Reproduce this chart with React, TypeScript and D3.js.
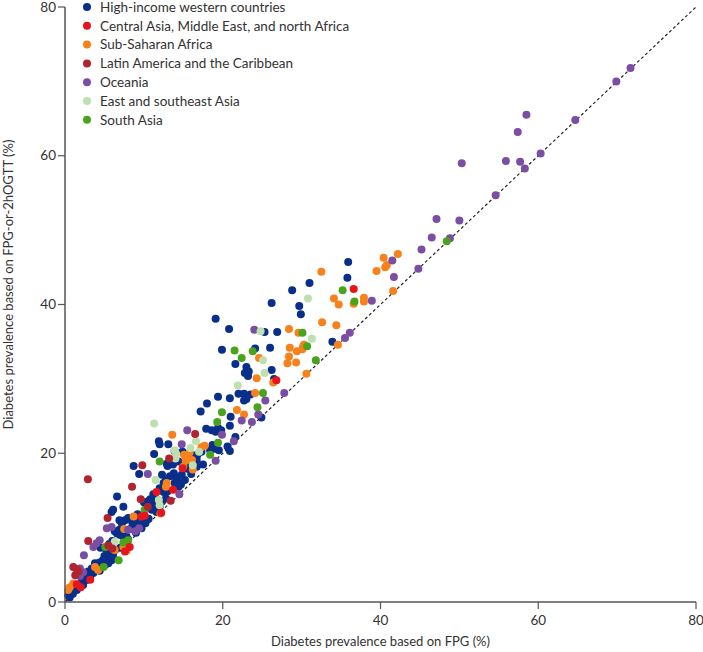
import React from "react";
import * as d3 from "d3";

const seriesNames = [
  "High-income western countries",
  "Central Asia, Middle East, and north Africa",
  "Sub-Saharan Africa",
  "Latin America and the Caribbean",
  "Oceania",
  "East and southeast Asia",
  "South Asia",
];
const seriesColors = ["#0a2f8a", "#e8141c", "#f7821c", "#b3232f", "#7a4ea3", "#bfdfb0", "#4aa31c"];

const highIncome: [number, number][] = [
  [35.9,45.7],[35.8,43.6],[31.0,42.9],[28.8,41.9],[26.2,40.2],[29.7,39.8],[29.9,38.7],[19.1,38.1],[33.9,35.0],
  [20.8,36.7],[25.3,36.3],[26.9,36.3],[26.0,34.2],[24.1,34.1],[19.9,33.9],[21.6,32.0],[23.0,31.6],[22.8,30.8],[23.2,30.4],[23.3,31.0],[26.2,31.2],[26.5,30.0],
  [22.0,28.0],[22.7,28.0],[23.5,27.9],[23.0,27.3],[22.7,27.1],[20.9,27.4],[19.4,27.6],[18.0,26.7],[17.2,25.6],[21.0,24.9],[24.9,24.8],[20.9,23.7],
  [17.9,23.3],[18.6,23.1],[19.1,22.9],[19.4,23.4],[19.8,23.1],[21.6,22.2],[11.9,21.6],[12.0,21.2],[13.1,21.2],[13.9,20.3],[11.3,19.9],
  [18.7,21.1],[18.4,20.4],[18.9,20.6],[19.5,20.4],[17.3,20.2],[16.8,19.8],[16.7,19.1],[13.0,18.3],[16.7,18.2],
  [20.6,20.9],[20.9,20.3],[14.9,20.2],[12.9,18.6],[13.7,18.5],[14.4,18.9],[8.7,18.3],[9.4,17.2],[12.3,17.1],[12.8,16.4],[13.3,16.9],[12.5,16.0],
  [13.8,17.3],[14.1,16.7],[14.3,16.2],[14.7,15.8],[14.4,15.5],[6.6,14.2],[12.0,15.3],[12.5,14.8],[12.8,13.9],[12.3,13.5],[11.6,13.8],[11.3,13.0],[10.5,13.5],[10.0,13.4],[10.4,12.6],[11.0,12.4],[11.6,12.1],[12.0,12.8],
  [5.9,12.1],[6.1,12.4],[7.4,12.8],[6.9,11.0],[7.2,10.6],[7.6,11.0],[8.0,11.3],[8.5,10.8],[8.8,10.6],[9.3,10.4],[9.7,9.9],[9.9,10.6],[10.2,10.6],
  [6.6,9.2],[7.0,9.0],[7.4,8.8],[7.8,8.8],[6.9,9.7],[6.3,9.5],
  [4.5,7.3],[5.2,7.1],[5.6,7.8],[6.0,8.2],[5.6,6.5],[5.0,6.2],[5.4,5.9],[5.9,5.6],[6.1,6.5],[4.8,5.6],[4.4,5.3],[4.1,5.0],[4.0,4.4],[4.4,4.2],[4.8,4.8],[5.1,5.0],[5.5,5.2],[6.1,5.9],
  [0.4,0.9],[0.85,1.4],[1.3,1.8],[1.7,2.3],[2.1,2.7],[2.5,3.4],[2.95,4.1],[3.4,4.5],[3.8,5.2],[2.75,2.95],[3.2,3.4],[3.6,3.9],[1.9,2.05],[2.3,2.3],
  [0.6,0.6],[1.0,1.1],[1.5,1.6],[3.0,3.1],[7.0,7.3],[8.0,8.4],[9.0,9.3],[10.6,11.2],[15.2,16.4],[16.0,17.2],[17.5,18.5],[15.5,17.9],[8.3,9.8],[9.2,11.8],
  [7.5,9.5],[8.5,10.0],[9.0,10.8],[10.8,13.8],[11.2,14.5],[13.0,14.9],[13.9,16.0],[14.8,17.1],[15.8,18.8],[16.3,19.7],
];

const centralAsia: [number, number][] = [
  [36.6,42.1],[26.8,29.8],[14.9,18.0],[11.6,14.8],[13.7,15.1],[9.7,11.5],[10.1,11.6],[8.2,7.4],[7.6,6.8],[1.5,2.4],[2.0,2.0],[12.2,12.0],[3.2,3.0],
];

const subSaharan: [number, number][] = [
  [32.5,44.4],[40.4,46.3],[42.2,46.8],[40.8,45.3],[40.6,45.0],[39.5,44.5],[41.6,41.8],[34.1,40.8],[34.7,40.0],[36.6,40.1],[37.9,40.9],[37.9,40.4],
  [34.6,34.6],[34.4,37.2],[32.6,37.6],[30.6,30.7],[30.2,34.4],[28.4,36.7],[29.6,36.2],[30.3,34.6],[30.1,34.0],[28.5,34.2],[29.4,33.7],[28.4,33.0],[28.2,32.1],[29.3,32.2],
  [24.6,32.8],[24.3,30.1],[26.4,29.5],[24.1,28.1],[21.8,25.8],[22.7,25.2],[13.6,22.5],[17.3,20.8],[17.7,21.0],[15.8,20.1],[15.1,19.8],[15.4,19.4],[16.1,19.1],[15.3,19.0],[16.2,17.8],[15.0,18.2],
  [12.9,16.0],[12.8,15.5],[12.1,11.9],[8.7,11.5],[7.5,9.8],[7.4,7.4],[6.3,7.0],[7.8,6.9],[4.2,4.3],[3.8,4.7],[1.05,2.5],[0.6,2.0],[0.4,1.6],
];

const latinAmerica: [number, number][] = [
  [16.5,22.6],[13.2,19.3],[9.8,18.4],[2.9,16.5],[8.5,15.5],[9.6,13.8],[13.4,13.6],[5.4,11.3],[2.95,8.2],[5.5,7.6],[6.0,7.2],[1.05,4.7],[1.7,4.1],[1.3,3.6],[1.5,4.4],[10.5,12.8],
];

const oceania: [number, number][] = [
  [71.7,71.8],[69.9,70.0],[58.5,65.5],[57.4,63.2],[64.7,64.8],[60.3,60.3],[55.9,59.3],[57.7,59.2],[58.3,58.3],[50.3,59.0],[54.6,54.7],[47.1,51.5],[50.0,51.3],[46.5,49.0],[48.8,48.9],[45.2,47.4],[44.8,44.8],
  [41.5,45.9],[41.7,43.7],[38.9,40.5],[36.1,36.2],[35.5,35.5],[24.0,36.6],[27.8,28.1],[25.4,27.1],[24.5,25.2],[22.4,24.4],[23.7,24.2],[15.5,23.1],[19.9,22.5],[21.4,21.6],[14.8,21.2],[19.1,19.0],
  [14.5,14.5],[10.5,17.2],[9.4,9.9],[8.9,9.5],[8.0,9.7],[5.3,9.9],[5.9,10.1],[4.4,8.3],[4.0,7.9],[3.6,7.4],[2.4,6.3],[1.9,4.5],[2.3,4.0],[1.9,3.5],
];

const eastAsia: [number, number][] = [
  [30.8,40.8],[31.3,35.4],[24.8,36.4],[25.1,32.5],[25.3,30.8],[21.9,29.1],[11.3,24.0],[16.6,21.6],[15.9,20.7],[14.0,19.3],[16.2,18.4],[11.9,13.7],[12.0,13.0],[11.5,16.4],[6.3,8.1],[5.7,7.5],[17.0,20.2],[14.1,19.9],[13.9,20.4],
];

const southAsia: [number, number][] = [
  [35.2,41.9],[36.7,40.4],[48.4,48.5],[31.8,32.5],[30.7,34.4],[30.1,36.2],[23.8,33.7],[21.5,33.8],[22.4,32.8],[25.1,28.1],[24.4,26.2],[19.9,25.5],[19.3,24.2],[19.4,21.4],[12.0,18.9],[18.4,19.8],[10.1,12.4],[5.1,7.4],[7.4,8.0],[8.0,8.3],[6.8,5.6],[4.9,4.7],
];

const seriesData = [highIncome, centralAsia, subSaharan, latinAmerica, oceania, eastAsia, southAsia];
const drawOrder = [0, 2, 4, 5, 6, 3, 1];

const xTicks = [0, 20, 40, 60, 80];
const yTicks = [0, 20, 40, 60, 80];

const FONT = "Lato, 'Open Sans', sans-serif";

export default function App() {
  const W = 703, H = 652;
  const x = d3.scaleLinear().domain([0, 80]).range([65, 696]);
  const y = d3.scaleLinear().domain([0, 80]).range([602, 7]);
  const axisColor = "#555";
  const textColor = "#333";
  const line = d3.line<[number, number]>().x(d => x(d[0])).y(d => y(d[1]));

  return (
    <svg width={W} height={H} style={{ position: "absolute", left: 0, top: 0, background: "#fff" }} fontFamily={FONT}>
      <path d={line([[0, 0], [80, 80]]) || ""} stroke="#222" strokeWidth={1.2} strokeDasharray="3,2.5" fill="none" />
      {drawOrder.map(si => (
        <g key={si}>
          {seriesData[si].map((p, i) => (
            <circle key={i} cx={x(p[0])} cy={y(p[1])} r={4} fill={seriesColors[si]} />
          ))}
        </g>
      ))}
      <line x1={x(0)} x2={x(0)} y1={y(80)} y2={y(0)} stroke={axisColor} strokeWidth={1.5} />
      <line x1={x(0)} x2={x(80)} y1={y(0)} y2={y(0)} stroke={axisColor} strokeWidth={1.5} />
      {yTicks.map(t => (
        <g key={"y" + t}>
          <line x1={x(0) - 7} x2={x(0)} y1={y(t)} y2={y(t)} stroke={axisColor} strokeWidth={1.2} />
          <text x={x(0) - 9} y={y(t)} dy="0.35em" textAnchor="end" fontSize={13.5} fill={textColor}>{t}</text>
        </g>
      ))}
      {xTicks.map(t => (
        <g key={"x" + t}>
          <line x1={x(t)} x2={x(t)} y1={y(0)} y2={y(0) + 7} stroke={axisColor} strokeWidth={1.2} />
          <text x={x(t)} y={y(0) + 23} textAnchor="middle" fontSize={13.5} fill={textColor}>{t}</text>
        </g>
      ))}
      <text x={(x(0) + x(80)) / 2} y={646} textAnchor="middle" fontSize={13} fill={textColor}>
        Diabetes prevalence based on FPG (%)
      </text>
      <text transform={`translate(13, ${(y(0) + y(80)) / 2 - 20}) rotate(-90)`} textAnchor="middle" fontSize={13} fill={textColor}>
        Diabetes prevalence based on FPG-or-2hOGTT (%)
      </text>
      {seriesNames.map((n, i) => (
        <g key={n} transform={`translate(0, ${7 + i * 18.8})`}>
          <circle cx={87} cy={0} r={4} fill={seriesColors[i]} />
          <text x={100} y={0} dy="0.35em" fontSize={13.5} fill={textColor}>{n}</text>
        </g>
      ))}
    </svg>
  );
}
